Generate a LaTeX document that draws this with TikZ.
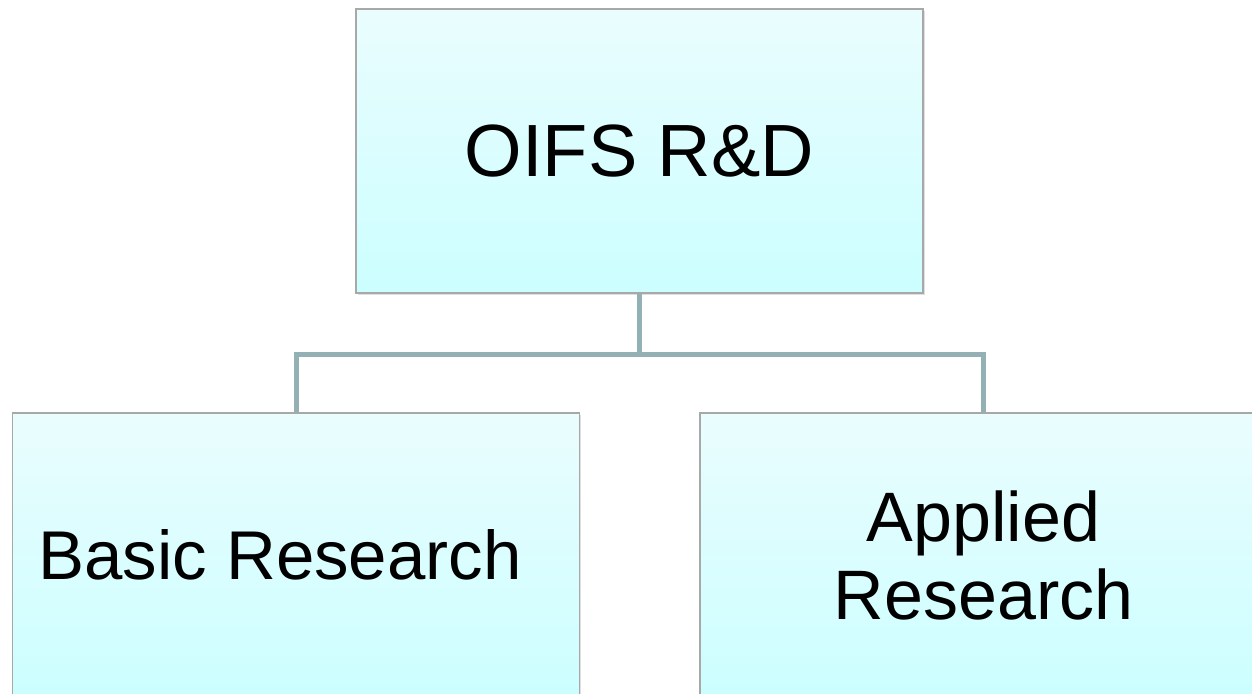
\documentclass[tikz,border=0pt]{standalone}
\usepackage{fontspec}
\setmainfont{Liberation Sans}
\usetikzlibrary{positioning, shadows}

\definecolor{topcyan}{HTML}{EAFDFE}
\definecolor{botcyan}{HTML}{CCFEFF}
\definecolor{linkgray}{HTML}{93B1B5}
\definecolor{edgegray}{HTML}{A8A8A8}

\begin{document}
\begin{tikzpicture}[x=0.5pt,y=-0.5pt,
 box/.style={rectangle,draw=edgegray,line width=0.8pt,
  top color=topcyan,bottom color=botcyan,
  minimum width=283.5pt,minimum height=142pt,align=center,
  font=\fontsize{35}{39}\selectfont,
  drop shadow={shadow xshift=0.8pt,shadow yshift=-0.8pt,opacity=0.25}},
 link/.style={draw=linkgray,line width=2.5pt}]
  \useasboundingbox (0,0) rectangle (1252,694);
  \clip (0,0) rectangle (1252,694);

  \node[box,font=\fontsize{37}{41}\selectfont] (rnd) at (639.5,151) {OIFS R\&D};
  \node[box,font=\fontsize{34.5}{39}\selectfont] (basic) at (296,555) {Basic Research\hspace*{16pt}};
  \node[box] (applied) at (983.5,555) {Applied\\Research};

  \coordinate (fork) at (639.5,355);
  \path[link] (rnd.south) -- (fork);
  \path[link] (basic.north) |- (fork) -| (applied.north);
\end{tikzpicture}
\end{document}
